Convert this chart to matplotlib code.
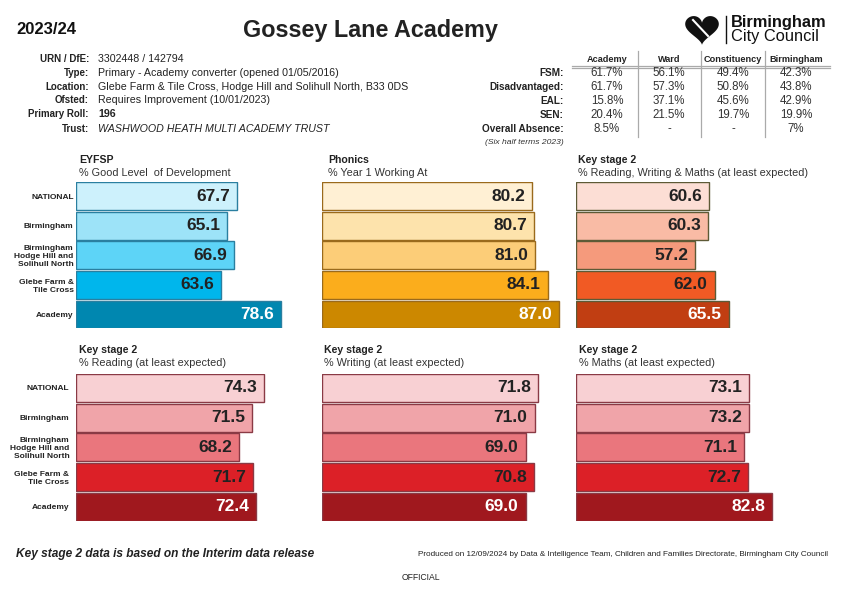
import numpy as np
import matplotlib
matplotlib.use("Agg")
import matplotlib.pyplot as plt
from matplotlib.patches import Polygon

plt.rcParams['font.family'] = ['Liberation Sans', 'DejaVu Sans']

W, H = 842, 595

# ---------------- data ----------------
categories = ["NATIONAL", "Birmingham", "Birmingham\nHodge Hill and\nSolihull North",
              "Glebe Farm &\nTile Cross", "Academy"]

eyfsp = [67.7, 65.1, 66.9, 63.6, 78.6]
phonics = [80.2, 80.7, 81.0, 84.1, 87.0]
ks2_rwm = [60.6, 60.3, 57.2, 62.0, 65.5]
ks2_reading = [74.3, 71.5, 68.2, 71.7, 72.4]
ks2_writing = [71.8, 71.0, 69.0, 70.8, 69.0]
ks2_maths = [73.1, 73.2, 71.1, 72.7, 82.8]

panel_titles = ["EYFSP", "Phonics", "Key stage 2", "Key stage 2", "Key stage 2", "Key stage 2"]
panel_subtitles = ["% Good Level  of Development", "% Year 1 Working At",
                   "% Reading, Writing & Maths (at least expected)",
                   "% Reading (at least expected)", "% Writing (at least expected)",
                   "% Maths (at least expected)"]

info_labels = ["URN / DfE:", "Type:", "Location:", "Ofsted:", "Primary Roll:", "Trust:"]
info_values = ["3302448 / 142794", "Primary - Academy converter (opened 01/05/2016)",
               "Glebe Farm & Tile Cross, Hodge Hill and Solihull North, B33 0DS",
               "Requires Improvement (10/01/2023)", "196", "WASHWOOD HEATH MULTI ACADEMY TRUST"]

stat_columns = ["Academy", "Ward", "Constituency", "Birmingham"]
stat_rows = ["FSM:", "Disadvantaged:", "EAL:", "SEN:", "Overall Absence:"]
stat_fsm = ["61.7%", "56.1%", "49.4%", "42.3%"]
stat_disadv = ["61.7%", "57.3%", "50.8%", "43.8%"]
stat_eal = ["15.8%", "37.1%", "45.6%", "42.9%"]
stat_sen = ["20.4%", "21.5%", "19.7%", "19.9%"]
stat_absence = ["8.5%", "-", "-", "7%"]

# ---------------- styles ----------------
blue = ["#cdf1fc", "#9de3f8", "#5dd4f7", "#00b6ec", "#0087b0"]
orange = ["#fff0d4", "#fde3ac", "#fccd78", "#fbad1c", "#cc8800"]
salmon = ["#fcded5", "#f9bba5", "#f59a7c", "#f15a24", "#c13e12"]
red = ["#f8d0d3", "#f0a4a9", "#ea767d", "#dc2027", "#a0181e"]

fig = plt.figure(figsize=(W / 100, H / 100), dpi=100)
fig.patch.set_facecolor("white")

ov = fig.add_axes([0, 0, 1, 1])
ov.set_xlim(0, W)
ov.set_ylim(H, 0)
ov.axis("off")

# header
ov.text(16, 30, "2023/24", fontsize=12, fontweight="bold", ha="left", va="center", color="#111")
ov.text(370, 31, "Gossey Lane Academy", fontsize=16.8, fontweight="bold", ha="center", va="center", color="#222")

# logo
t = np.linspace(0, 2 * np.pi, 200)
hx = 16 * np.sin(t) ** 3
hy = 13 * np.cos(t) - 5 * np.cos(2 * t) - 2 * np.cos(3 * t) - np.cos(4 * t)
hx = 702 + hx * 1.05
hy = 28 - hy * 1.0
ov.add_patch(Polygon(np.column_stack([hx, hy]), closed=True, color="#111", lw=0))
ov.plot([693, 708], [20, 36], color="white", lw=1.5)
ov.plot([726, 726], [16, 43], color="#111", lw=1)
ov.text(731, 22, "Birmingham", fontsize=11.8, fontweight="bold", ha="left", va="center", color="#111")
ov.text(731, 36, "City Council", fontsize=11.8, ha="left", va="center", color="#111")

# info block
info_y = [59, 73, 87, 100, 114, 129]
for i, (lab, val) in enumerate(zip(info_labels, info_values)):
    ov.text(89, info_y[i], lab, fontsize=7, fontweight="bold", ha="right", va="center", color="#222")
    kw = {}
    if lab == "Primary Roll:":
        kw["fontweight"] = "bold"
    if lab == "Trust:":
        kw["style"] = "italic"
    ov.text(98, info_y[i], val, fontsize=7.7, ha="left", va="center", color="#222", **kw)

# stats table
col_x = [607, 669, 733, 796]
row_y = [73, 87, 101, 115, 129]
stat_table = [stat_fsm, stat_disadv, stat_eal, stat_sen, stat_absence]
for j, c in enumerate(stat_columns):
    ov.text(col_x[j], 59, c, fontsize=6.6, fontweight="bold", ha="center", va="center", color="#222")
for i, r in enumerate(stat_rows):
    ov.text(564, row_y[i], r, fontsize=7.2, fontweight="bold", ha="right", va="center", color="#222")
    for j in range(4):
        ov.text(col_x[j], row_y[i], stat_table[i][j], fontsize=8.3, ha="center", va="center", color="#333")
ov.text(564, 142, "(Six half terms 2023)", fontsize=6.1, style="italic", ha="right", va="center", color="#333")
for x in [638, 701, 765]:
    ov.plot([x, x], [51, 137], color="#aaaaaa", lw=0.9)
ov.plot([572, 830], [66, 66], color="#aaaaaa", lw=0.9)
ov.plot([572, 830], [68.3, 68.3], color="#aaaaaa", lw=0.9)

# footer
ov.text(16, 554, "Key stage 2 data is based on the Interim data release", fontsize=8.6,
        fontweight="bold", style="italic", ha="left", va="center", color="#222")
ov.text(828, 554, "Produced on 12/09/2024 by Data & Intelligence Team, Children and Families Directorate, Birmingham City Council",
        fontsize=5.9, ha="right", va="center", color="#222",
        family=["Liberation Sans Narrow", "Liberation Sans", "DejaVu Sans"])
ov.text(421, 577, "OFFICIAL", fontsize=6.2, ha="center", va="center", color="#222",
        family=["Liberation Sans Narrow", "Liberation Sans", "DejaVu Sans"])

# ---------------- panels ----------------
# (values, colours, edge, left px, top px, bottom px, px per unit, axis start, title x, title y)
panels = [
    (eyfsp, blue, "#2a7fa0", 76.3, 182.3, 328.3, 3.98, 27.2, 79, 160),
    (phonics, orange, "#9a6a1c", 321.7, 182.3, 328.3, 3.93, 26.6, 328, 160),
    (ks2_rwm, salmon, "#5d5a36", 575.7, 182.3, 328.3, 4.06, 27.8, 578, 160),
    (ks2_reading, red, "#8a3a45", 76.3, 374.0, 520.7, 4.0, 27.45, 79, 350),
    (ks2_writing, red, "#8a3a45", 321.7, 374.0, 520.7, 4.5, 23.7, 324, 350),
    (ks2_maths, red, "#8a3a45", 575.7, 374.0, 520.7, 2.37, 0.0, 579, 350),
]

hbar = 0.94
for k, (vals, cols, edge, L, top, bot, s, o, tx, ty) in enumerate(panels):
    wpx = 245
    ax = fig.add_axes([L / W, 1 - bot / H, wpx / W, (bot - top) / H])
    ax.set_xlim(o, o + wpx / s)
    ax.set_ylim(4 + hbar / 2, -hbar / 2)
    y = np.arange(len(vals))
    ax.barh(y, np.array(vals) - o, left=o, height=hbar, color=cols, edgecolor=edge, linewidth=1.0)
    for i, v in enumerate(vals):
        ax.text(v - 7 / s, i, f"{v:.1f}", ha="right", va="center", fontsize=12.5,
                fontweight="bold", color="white" if i == len(vals) - 1 else "#222")
    for sp in ax.spines.values():
        sp.set_visible(False)
    ax.set_xticks([])
    ax.patch.set_alpha(0)
    if k in (0, 3):
        ax.set_yticks(y)
        ax.set_yticklabels(categories, fontsize=6.0, fontweight="bold", color="#222", linespacing=1.2)
        ax.tick_params(axis="y", length=0, pad=2 if k == 0 else 5)
    else:
        ax.set_yticks([])
    ov.text(tx, ty, panel_titles[k], fontsize=7.6, fontweight="bold", ha="left", va="center", color="#222")
    ov.text(tx, ty + 13.5, panel_subtitles[k], fontsize=7.8, ha="left", va="center", color="#333")

fig.savefig("out.png", dpi=100, facecolor="white")
